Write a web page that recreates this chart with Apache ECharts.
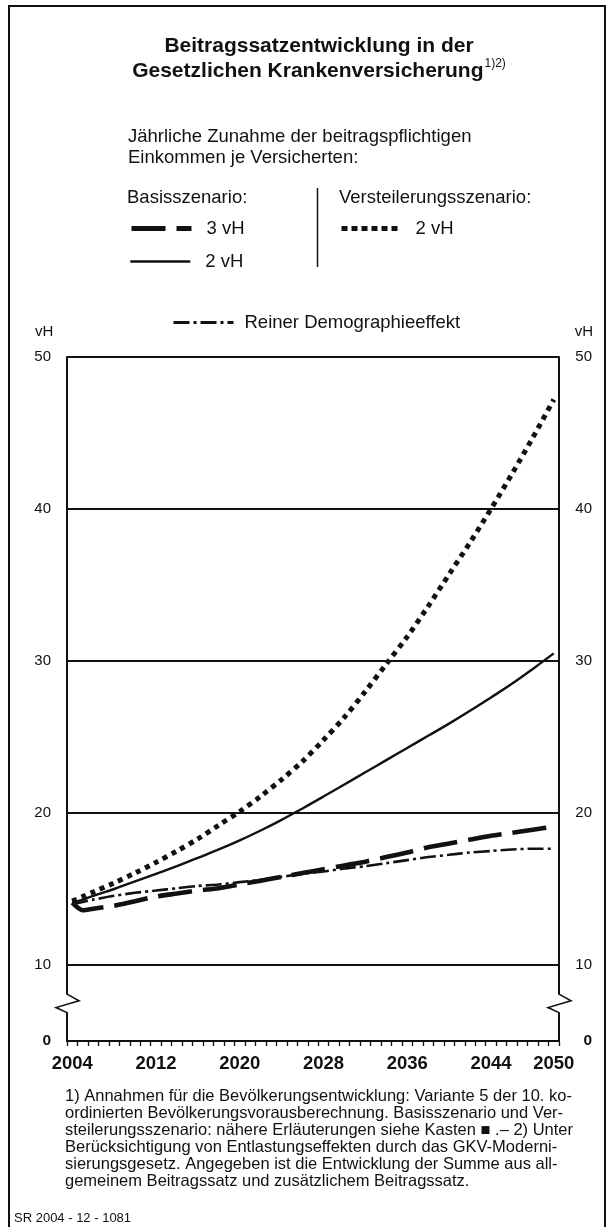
<!DOCTYPE html>
<html><head><meta charset="utf-8">
<script src="https://cdn.jsdelivr.net/npm/echarts@6/dist/echarts.min.js"></script>
<style>html,body{margin:0;padding:0;background:#fff}#c{width:611px;height:1227px}</style>
</head><body><div id="c"></div>
<script>
// ---- data ----
const years = ['2004','2005','2006','2007','2008','2009','2010','2011','2012','2013','2014','2015','2016','2017','2018','2019','2020','2021','2022','2023','2024','2025','2026','2027','2028','2029','2030','2031','2032','2033','2034','2035','2036','2037','2038','2039','2040','2041','2042','2043','2044','2045','2046','2047','2048','2049','2050'];
const labelYears = ['2004','2012','2020','2028','2036','2044','2050'];
const sampleYears = ['2004','2005','2006','2008','2010','2012','2014','2016','2018','2020','2022','2024','2026','2028','2030','2032','2034','2036','2038','2040','2042','2044','2046','2048','2050'];
const basis3 = [14.1,13.6,13.7,13.9,14.2,14.5,14.7,14.9,15.05,15.3,15.55,15.8,16.05,16.3,16.55,16.8,17.1,17.4,17.75,18.0,18.25,18.5,18.7,18.9,19.1];
const basis2 = [14.1,14.3,14.55,15.0,15.5,16.0,16.5,17.05,17.6,18.2,18.85,19.55,20.3,21.08,21.88,22.68,23.48,24.28,25.08,25.88,26.72,27.6,28.5,29.48,30.5];
const steil2 = [14.2,14.5,14.8,15.4,16.05,16.75,17.5,18.3,19.2,20.1,21.1,22.2,23.4,24.8,26.3,28.0,29.8,31.6,33.6,35.7,37.8,40.0,42.3,44.7,47.2];
const demog  = [14.0,14.15,14.3,14.55,14.75,14.9,15.05,15.2,15.3,15.45,15.6,15.8,16.0,16.15,16.35,16.5,16.7,16.9,17.1,17.25,17.4,17.5,17.6,17.65,17.65];
const gridValues = [10,20,30,40,50];
const yTickLabels = {5:'0',10:'10',20:'20',30:'30',40:'40',50:'50'};
const footnotes = [
 '1) Annahmen für die Bevölkerungsentwicklung: Variante 5 der 10. ko-',
 'ordinierten Bevölkerungsvorausberechnung. Basisszenario und Ver-',
 'steilerungsszenario: nähere Erläuterungen siehe Kasten \u25A0 .\u2013 2) Unter',
 'Berücksichtigung von Entlastungseffekten durch das GKV-Moderni-',
 'sierungsgesetz. Angegeben ist die Entwicklung der Summe aus all-',
 'gemeinem Beitragssatz und zusätzlichem Beitragssatz.'
];

const FF = '"Liberation Sans", Arial, Helvetica, sans-serif';
const INK = '#111';
const pairs = v => sampleYears.map((y,i)=>[y, v[i]]);

const styles = {
  b3: {color:INK, width:4.6, type:[34,11], cap:'butt'},
  b2: {color:INK, width:2.4, type:'solid', cap:'butt'},
  s2: {color:INK, width:5, type:[5,5], cap:'butt'},
  dm: {color:INK, width:2.6, type:[16,4,3,4], cap:'butt'}
};
const legendStyles = {
  b3: {color:INK, width:5, type:[34,11], cap:'butt'},
  b2: {color:INK, width:2.6, type:'solid', cap:'butt'},
  s2: {color:INK, width:5, type:[6,4], cap:'butt'},
  dm: {color:INK, width:3, type:[16,4,3,4], cap:'butt'}
};

const chart = echarts.init(document.getElementById('c'), null, {renderer:'canvas'});

function yLabel(v){
  const t = yTickLabels[v];
  if (t === undefined) return '';
  return v === 5 ? '{b|' + t + '}' : t;
}
const yLabelBase = {fontSize:15, color:INK, fontFamily:FF, rich:{b:{fontSize:15.5, fontWeight:'bold', color:INK, fontFamily:FF}}};

function legend(name, left, top, pad, label, ls){
  return {
    data:[name], left:left, top:top, orient:'horizontal', padding:0,
    itemWidth:60, itemHeight:14, selectedMode:false,
    formatter: () => label,
    itemStyle:{opacity:0},
    lineStyle:ls,
    textStyle:{fontSize:18.5, color:INK, fontFamily:FF, padding:[0,0,0,pad]}
  };
}

const option = {
  animation:false,
  backgroundColor:'#fff',
  grid:{left:67, right:52, top:357, bottom:186, containLabel:false},
  xAxis:{
    type:'category', data:years, boundaryGap:true,
    axisLine:{show:true, lineStyle:{color:INK, width:2}},
    axisTick:{show:true, interval:0, length:5, inside:false, lineStyle:{color:INK, width:1.3}},
    axisLabel:{interval:(i, v) => labelYears.indexOf(v) >= 0, margin:13, fontSize:18.5, fontWeight:'bold', color:INK, fontFamily:FF},
    splitLine:{show:false}
  },
  yAxis:[
    {type:'value', min:5, max:50, interval:5, position:'left',
     axisLine:{show:true, lineStyle:{color:INK, width:2}}, axisTick:{show:false}, splitLine:{show:false},
     axisLabel:Object.assign({formatter:yLabel, margin:16}, yLabelBase)},
    {type:'value', min:5, max:50, interval:5, position:'right',
     axisLine:{show:true, lineStyle:{color:INK, width:2}}, axisTick:{show:false}, splitLine:{show:false},
     axisLabel:Object.assign({formatter:yLabel, margin:33, align:'right'}, yLabelBase)}
  ],
  legend:[
    legend('Basis 3 vH', 129, 219, 10, '3 vH', legendStyles.b3),
    legend('Basis 2 vH', 129, 252, 10, '2 vH', legendStyles.b2),
    legend('Versteilerung 2 vH', 339, 219, 9, '2 vH', legendStyles.s2),
    legend('Reiner Demographieeffekt', 172, 313, 6, 'Reiner Demographieeffekt', legendStyles.dm)
  ],
  series:[
    {name:'Basis 3 vH', type:'line', data:pairs(basis3), symbol:'none', smooth:0.25, z:4,
     itemStyle:{color:INK}, lineStyle:styles.b3,
     markLine:{silent:true, symbol:['none','none'], label:{show:false}, z:1,
       lineStyle:{color:INK, width:1.8, type:'solid'},
       data: gridValues.map(v=>({yAxis:v}))}},
    {name:'Basis 2 vH', type:'line', data:pairs(basis2), symbol:'none', smooth:0.4, z:4,
     itemStyle:{color:INK}, lineStyle:styles.b2},
    {name:'Versteilerung 2 vH', type:'line', data:pairs(steil2), symbol:'none', smooth:0.3, z:4,
     itemStyle:{color:INK}, lineStyle:styles.s2},
    {name:'Reiner Demographieeffekt', type:'line', data:pairs(demog), symbol:'none', smooth:0.25, z:4,
     itemStyle:{color:INK}, lineStyle:styles.dm}
  ]
};
chart.setOption(option);

// ---- decorations (texts, frame, axis breaks) ----
function measure(text, font){
  const c = document.createElement('canvas').getContext('2d');
  c.font = font; return c.measureText(text).width;
}
function txt(id, text, x, y, size, opts){
  opts = opts || {};
  return {type:'text', id:id, x:x, y:y, z:50, silent:true,
    style:{text:text, fill:INK, font:(opts.bold?'bold ':'') + size + 'px ' + FF,
      align:opts.align||'left', verticalAlign:'middle',
      textAlign:opts.align||'left', textVerticalAlign:'middle'}};
}
function line(id, x1,y1,x2,y2,w){
  return {type:'line', id:id, z:50, silent:true, shape:{x1:x1,y1:y1,x2:x2,y2:y2}, style:{stroke:INK, lineWidth:w}};
}

const g = [];
// frame
g.push(line('fl', 9, 5, 9, 1227, 2));
g.push(line('ft', 8, 6, 606, 6, 2));
g.push(line('fr', 605, 5, 605, 1227, 2));
// title
const TS = 21;
const tFont = 'bold ' + TS + 'px ' + FF;
const supFont = '12px ' + FF;
g.push(txt('t1','Beitragssatzentwicklung in der', 319, 46, TS, {bold:true, align:'center'}));
const t2 = 'Gesetzlichen Krankenversicherung', t2s = '1)2)';
const w2 = measure(t2, tFont), ws = measure(t2s, supFont);
const t2x = 319 - (w2 + ws + 1)/2;
g.push(txt('t2', t2, t2x, 71, TS, {bold:true}));
g.push(txt('t2s', t2s, t2x + w2 + 1, 64, 12, {}));
// legend header
const LS = 18.5;
g.push(txt('h1','Jährliche Zunahme der beitragspflichtigen', 128, 137, LS));
g.push(txt('h2','Einkommen je Versicherten:', 128, 158, LS));
g.push(txt('h3','Basisszenario:', 127, 198, LS));
g.push(txt('h4','Versteilerungsszenario:', 339, 198, LS));
g.push(line('hd', 317.5, 188, 317.5, 267, 1.5));
// unit labels
g.push(txt('u1','vH', 35, 332, 15));
g.push(txt('u2','vH', 593, 332, 15, {align:'right'}));
// footnotes
footnotes.forEach((f,i)=> g.push(txt('fn'+i, f, 65, 1096 + i*17, 16.5)));
g.push(txt('sr','SR 2004 - 12 - 1081', 14, 1218, 13));

// axis break zigzags, placed through the axis scales
const x0 = chart.convertToPixel({xAxisIndex:0}, years[0]);
const x1 = chart.convertToPixel({xAxisIndex:0}, years[1]);
const bw = x1 - x0;
const leftX = x0 - bw/2;
const rightX = chart.convertToPixel({xAxisIndex:0}, years[years.length-1]) + bw/2;
const py = v => chart.convertToPixel({yAxisIndex:0}, v);
[leftX, rightX].forEach((X, k) => {
  const ya = py(8.05), yb = py(7.65), yc = py(7.2), yd = py(6.9);
  g.push({type:'rect', id:'zr'+k, z:60, silent:true, shape:{x:X-2, y:ya, width:4, height:yd-ya}, style:{fill:'#fff'}});
  g.push({type:'polyline', id:'zz'+k, z:61, silent:true,
    shape:{points:[[X,ya-0.5],[X+12,yb],[X-11,yc],[X,yd+0.5]]},
    style:{stroke:INK, lineWidth:1.6, fill:null}});
});

chart.setOption({graphic:g});
</script>
</body></html>
